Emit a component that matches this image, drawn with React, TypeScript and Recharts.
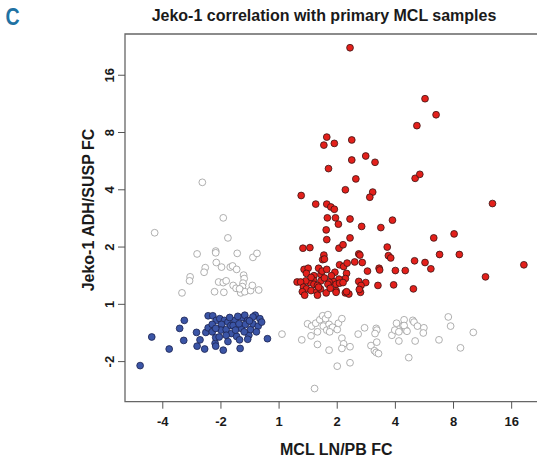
import React from 'react';
import { ScatterChart, Scatter, XAxis, YAxis, ReferenceArea } from 'recharts';

const FONT = '"Liberation Sans", Arial, Helvetica, sans-serif';

const xTickValues = [-2, -1, 0, 1, 2, 3, 4];
const xTickLabels = ['-4', '-2', '1', '2', '4', '8', '16'];
const yTickValues = [-1, 0, 1, 2, 3, 4];
const yTickLabels = ['-2', '1', '2', '4', '8', '16'];
const X_DOMAIN: [number, number] = [-2.65, 4.47];
const Y_DOMAIN: [number, number] = [-1.7, 4.72];

// log2 fold change values: [MCL LN/PB, Jeko-1 ADH/SUSP]
const redPoints: [number, number][] = [
  [1.22, 4.48], [2.51, 3.59], [2.7, 3.31], [2.37, 3.12], [0.82, 2.92], [0.77, 2.78], [0.95, 2.81], [1.25, 2.87],
  [1.25, 2.52], [1.49, 2.59], [1.65, 2.48], [0.85, 2.37], [1.32, 2.19], [2.34, 2.2], [2.42, 2.27], [1.14, 2.0],
  [1.61, 1.96], [1.56, 1.87], [0.38, 1.9], [0.63, 1.75], [0.82, 1.75], [0.89, 1.7], [0.95, 1.66], [3.67, 1.76],
  [0.83, 1.51], [0.97, 1.51], [1.22, 1.49], [1.02, 1.4], [1.42, 1.36], [1.75, 1.34], [1.95, 1.47], [0.81, 1.3],
  [0.82, 1.13], [1.22, 1.16], [2.66, 1.16], [3.01, 1.23], [0.41, 0.98], [0.53, 0.99], [1.03, 0.98], [1.1, 1.04],
  [1.86, 1.0], [2.76, 0.87], [3.1, 0.87], [0.77, 0.86], [0.75, 0.78], [0.78, 0.79], [1.37, 0.88], [1.39, 0.86],
  [1.88, 0.85], [1.92, 0.81], [1.3, 0.74], [1.43, 0.73], [1.04, 0.69], [1.11, 0.66], [1.17, 0.72], [2.33, 0.76],
  [2.51, 0.73], [1.52, 0.58], [1.72, 0.63], [1.73, 0.6], [2.0, 0.59], [2.17, 0.59], [2.61, 0.62], [4.21, 0.69],
  [3.55, 0.48], [0.43, 0.61], [0.5, 0.63], [0.47, 0.54], [0.6, 0.5], [0.68, 0.63], [0.72, 0.52], [0.74, 0.58],
  [0.82, 0.61], [0.96, 0.56], [1.16, 0.54], [1.14, 0.45], [1.03, 0.44], [0.93, 0.4], [0.86, 0.39], [0.72, 0.41],
  [0.59, 0.42], [0.53, 0.38], [0.46, 0.41], [0.31, 0.39], [0.37, 0.39], [0.6, 0.35], [0.66, 0.33], [0.84, 0.35],
  [0.98, 0.35], [1.04, 0.37], [1.1, 0.38], [1.37, 0.4], [1.49, 0.38], [1.41, 0.33], [1.7, 0.33], [1.97, 0.34],
  [2.31, 0.27], [0.42, 0.3], [0.47, 0.27], [0.4, 0.22], [0.44, 0.16], [0.55, 0.24], [0.65, 0.22], [0.66, 0.16],
  [0.71, 0.27], [0.81, 0.2], [0.98, 0.24], [0.98, 0.21], [1.14, 0.2], [1.2, 0.18], [1.16, 0.22], [1.4, 0.21],
  [1.38, 0.26], [0.55, 0.47], [0.78, 0.46], [0.9, 0.5], [0.68, 0.3], [0.88, 0.28],
];

const bluePoints: [number, number][] = [
  [-2.39, -1.07], [-2.19, -0.57], [-1.89, -0.78], [-1.71, -0.42], [-1.63, -0.28], [-1.64, -0.63], [-1.42, -0.49],
  [-1.41, -0.73], [-1.36, -0.62], [-1.28, -0.78], [-1.26, -0.49], [-1.22, -0.2], [-1.22, -0.41], [-1.14, -0.2],
  [-1.15, -0.48], [-1.1, -0.68], [-1.09, -0.58], [-1.03, -0.57], [-0.96, -0.8], [-1.08, -0.28], [-1.02, -0.25],
  [-0.94, -0.28], [-0.99, -0.35], [-0.88, -0.31], [-1.0, -0.45], [-0.91, -0.44], [-0.83, -0.37], [-0.82, -0.51],
  [-0.76, -0.28], [-0.73, -0.56], [-0.68, -0.62], [-0.67, -0.77], [-0.65, -0.42], [-0.63, -0.23], [-0.59, -0.19],
  [-0.54, -0.28], [-0.52, -0.54], [-0.49, -0.44], [-0.45, -0.34], [-0.41, -0.19], [-0.36, -0.38], [-0.33, -0.25],
  [-0.39, -0.48], [-0.2, -0.6], [-0.45, -0.22], [-0.71, -0.21], [-0.79, -0.37], [-0.6, -0.48], [-0.58, -0.35],
  [-0.91, -0.54], [-1.15, -0.35], [-1.09, -0.42], [-0.85, -0.23], [-0.69, -0.34], [-0.51, -0.29], [-1.09, -0.73],
  [-0.3, -0.31], [-0.75, -0.45], [-0.54, -0.61], [-0.88, -0.65],
];

const greyPoints: [number, number][] = [
  [-1.32, 2.13], [-0.96, 1.51], [-2.14, 1.25], [-0.88, 1.16], [-1.41, 0.88], [-1.09, 0.93], [-1.09, 0.9],
  [-0.72, 0.89], [-0.45, 0.82], [-0.38, 0.89], [-1.08, 0.73], [-0.99, 0.65], [-1.27, 0.64], [-1.29, 0.56],
  [-0.84, 0.65], [-0.8, 0.67], [-0.73, 0.61], [-1.53, 0.48], [-1.54, 0.41], [-1.04, 0.39], [-0.96, 0.38],
  [-0.91, 0.41], [-0.79, 0.33], [-0.74, 0.28], [-0.61, 0.51], [-0.6, 0.45], [-0.62, 0.37], [-0.63, 0.31],
  [-0.65, 0.24], [-0.66, 0.2], [-0.59, 0.22], [-0.49, 0.24], [-0.46, 0.33], [-0.35, 0.25], [-1.11, 0.22],
  [-0.95, 0.21], [-1.67, 0.2], [-0.68, 0.27],
  [0.05, -0.52], [0.39, -0.62], [0.49, -0.34], [0.56, -0.38], [0.55, -0.55], [0.63, -0.33], [0.66, -0.48],
  [0.66, -0.7], [0.7, -0.27], [0.75, -0.2], [0.76, -0.38], [0.8, -0.25], [0.84, -0.18], [0.82, -0.45],
  [0.86, -0.35], [0.89, -0.42], [0.92, -0.4], [0.87, -0.48], [1.0, -0.44], [1.02, -0.33], [1.08, -0.25],
  [1.08, -0.59], [1.11, -0.69], [1.08, -0.77], [1.22, -0.74], [0.86, -0.8], [1.0, -1.08], [1.22, -1.02],
  [0.61, -1.47], [1.36, -0.52], [1.47, -0.41], [1.58, -0.72], [1.67, -0.42], [1.68, -0.45], [1.65, -0.51],
  [1.68, -0.66], [1.64, -0.81], [1.67, -0.84], [1.71, -0.86], [1.94, -0.54], [1.99, -0.45], [2.02, -0.33],
  [2.06, -0.48], [2.06, -0.64], [2.13, -0.37], [2.15, -0.27], [2.18, -0.45], [2.23, -0.93], [2.15, -0.37],
  [2.2, -0.47], [2.3, -0.28], [2.32, -0.31], [2.38, -0.38], [2.49, -0.41], [2.48, -0.5], [2.34, -0.64],
  [2.75, -0.62], [2.91, -0.22], [2.95, -0.38], [3.34, -0.49], [3.12, -0.76],
];

const toData = (pts: [number, number][]) => pts.map(([x, y]) => ({ x, y }));

const makeShape = (fill: string, stroke: string) => (p: any) => (
  <circle cx={p.cx} cy={p.cy} r={3.4} fill={fill} stroke={stroke} strokeWidth={0.8} />
);

const YTick = (props: any) => {
  const { x, y, payload } = props;
  const i = yTickValues.indexOf(payload.value);
  return (
    <text
      x={x}
      y={y}
      transform={`rotate(-90 ${x} ${y})`}
      textAnchor="middle"
      fontSize={13}
      fontWeight="bold"
      fontFamily={FONT}
      fill="#1a1a1a"
    >
      {yTickLabels[i]}
    </text>
  );
};

export default function App() {
  return (
    <div style={{ position: 'fixed', left: 0, top: 0, width: 537, height: 461, overflow: 'hidden', background: '#fff' }}>
      <ScatterChart width={600} height={461} margin={{ top: 34, right: 61, bottom: 0, left: 0 }}>
        <XAxis
          type="number"
          dataKey="x"
          domain={X_DOMAIN}
          allowDataOverflow
          ticks={xTickValues}
          tickFormatter={(v: number) => xTickLabels[xTickValues.indexOf(v)]}
          height={59.3}
          axisLine={false}
          tickLine={{ stroke: '#555', strokeWidth: 1 }}
          tickSize={7}
          tickMargin={8}
          tick={{ fontSize: 13, fontWeight: 'bold', fill: '#1a1a1a', fontFamily: FONT }}
          interval={0}
        />
        <YAxis
          type="number"
          dataKey="y"
          domain={Y_DOMAIN}
          allowDataOverflow
          ticks={yTickValues}
          width={125}
          axisLine={false}
          tickLine={{ stroke: '#555', strokeWidth: 1 }}
          tickSize={7}
          tickMargin={4}
          tick={<YTick />}
          interval={0}
        />
        <ReferenceArea
          x1={X_DOMAIN[0]}
          x2={X_DOMAIN[1]}
          y1={Y_DOMAIN[0]}
          y2={Y_DOMAIN[1]}
          fill="none"
          fillOpacity={0}
          stroke="#666"
          strokeWidth={1.3}
          ifOverflow="visible"
        />
        <Scatter data={toData(greyPoints)} isAnimationActive={false} shape={makeShape('#fff', '#9c9c9c')} />
        <Scatter data={toData(bluePoints)} isAnimationActive={false} shape={makeShape('#3b55a6', '#1c2350')} />
        <Scatter data={toData(redPoints)} isAnimationActive={false} shape={makeShape('#e3201b', '#3a1414')} />
      </ScatterChart>
      <svg width={537} height={461} style={{ position: 'absolute', left: 0, top: 0, pointerEvents: 'none' }}>
        <text x={0} y={0} transform="translate(12.5 25) scale(0.85 1.05)" textAnchor="middle" fontSize={23}
          fontWeight="bold" fill="#1f72a3" fontFamily={FONT}>C</text>
        <text x={324} y={20.7} textAnchor="middle" fontSize={16} fontWeight="bold" fill="#1a1a1a" fontFamily={FONT}>
          Jeko-1 correlation with primary MCL samples
        </text>
        <text x={336.3} y={455} textAnchor="middle" fontSize={16} fontWeight="bold" fill="#1a1a1a" fontFamily={FONT}>
          MCL LN/PB FC
        </text>
        <text x={94} y={210} transform="rotate(-90 94 210)" textAnchor="middle" fontSize={16} fontWeight="bold"
          fill="#1a1a1a" fontFamily={FONT}>
          Jeko-1 ADH/SUSP FC
        </text>
      </svg>
    </div>
  );
}
